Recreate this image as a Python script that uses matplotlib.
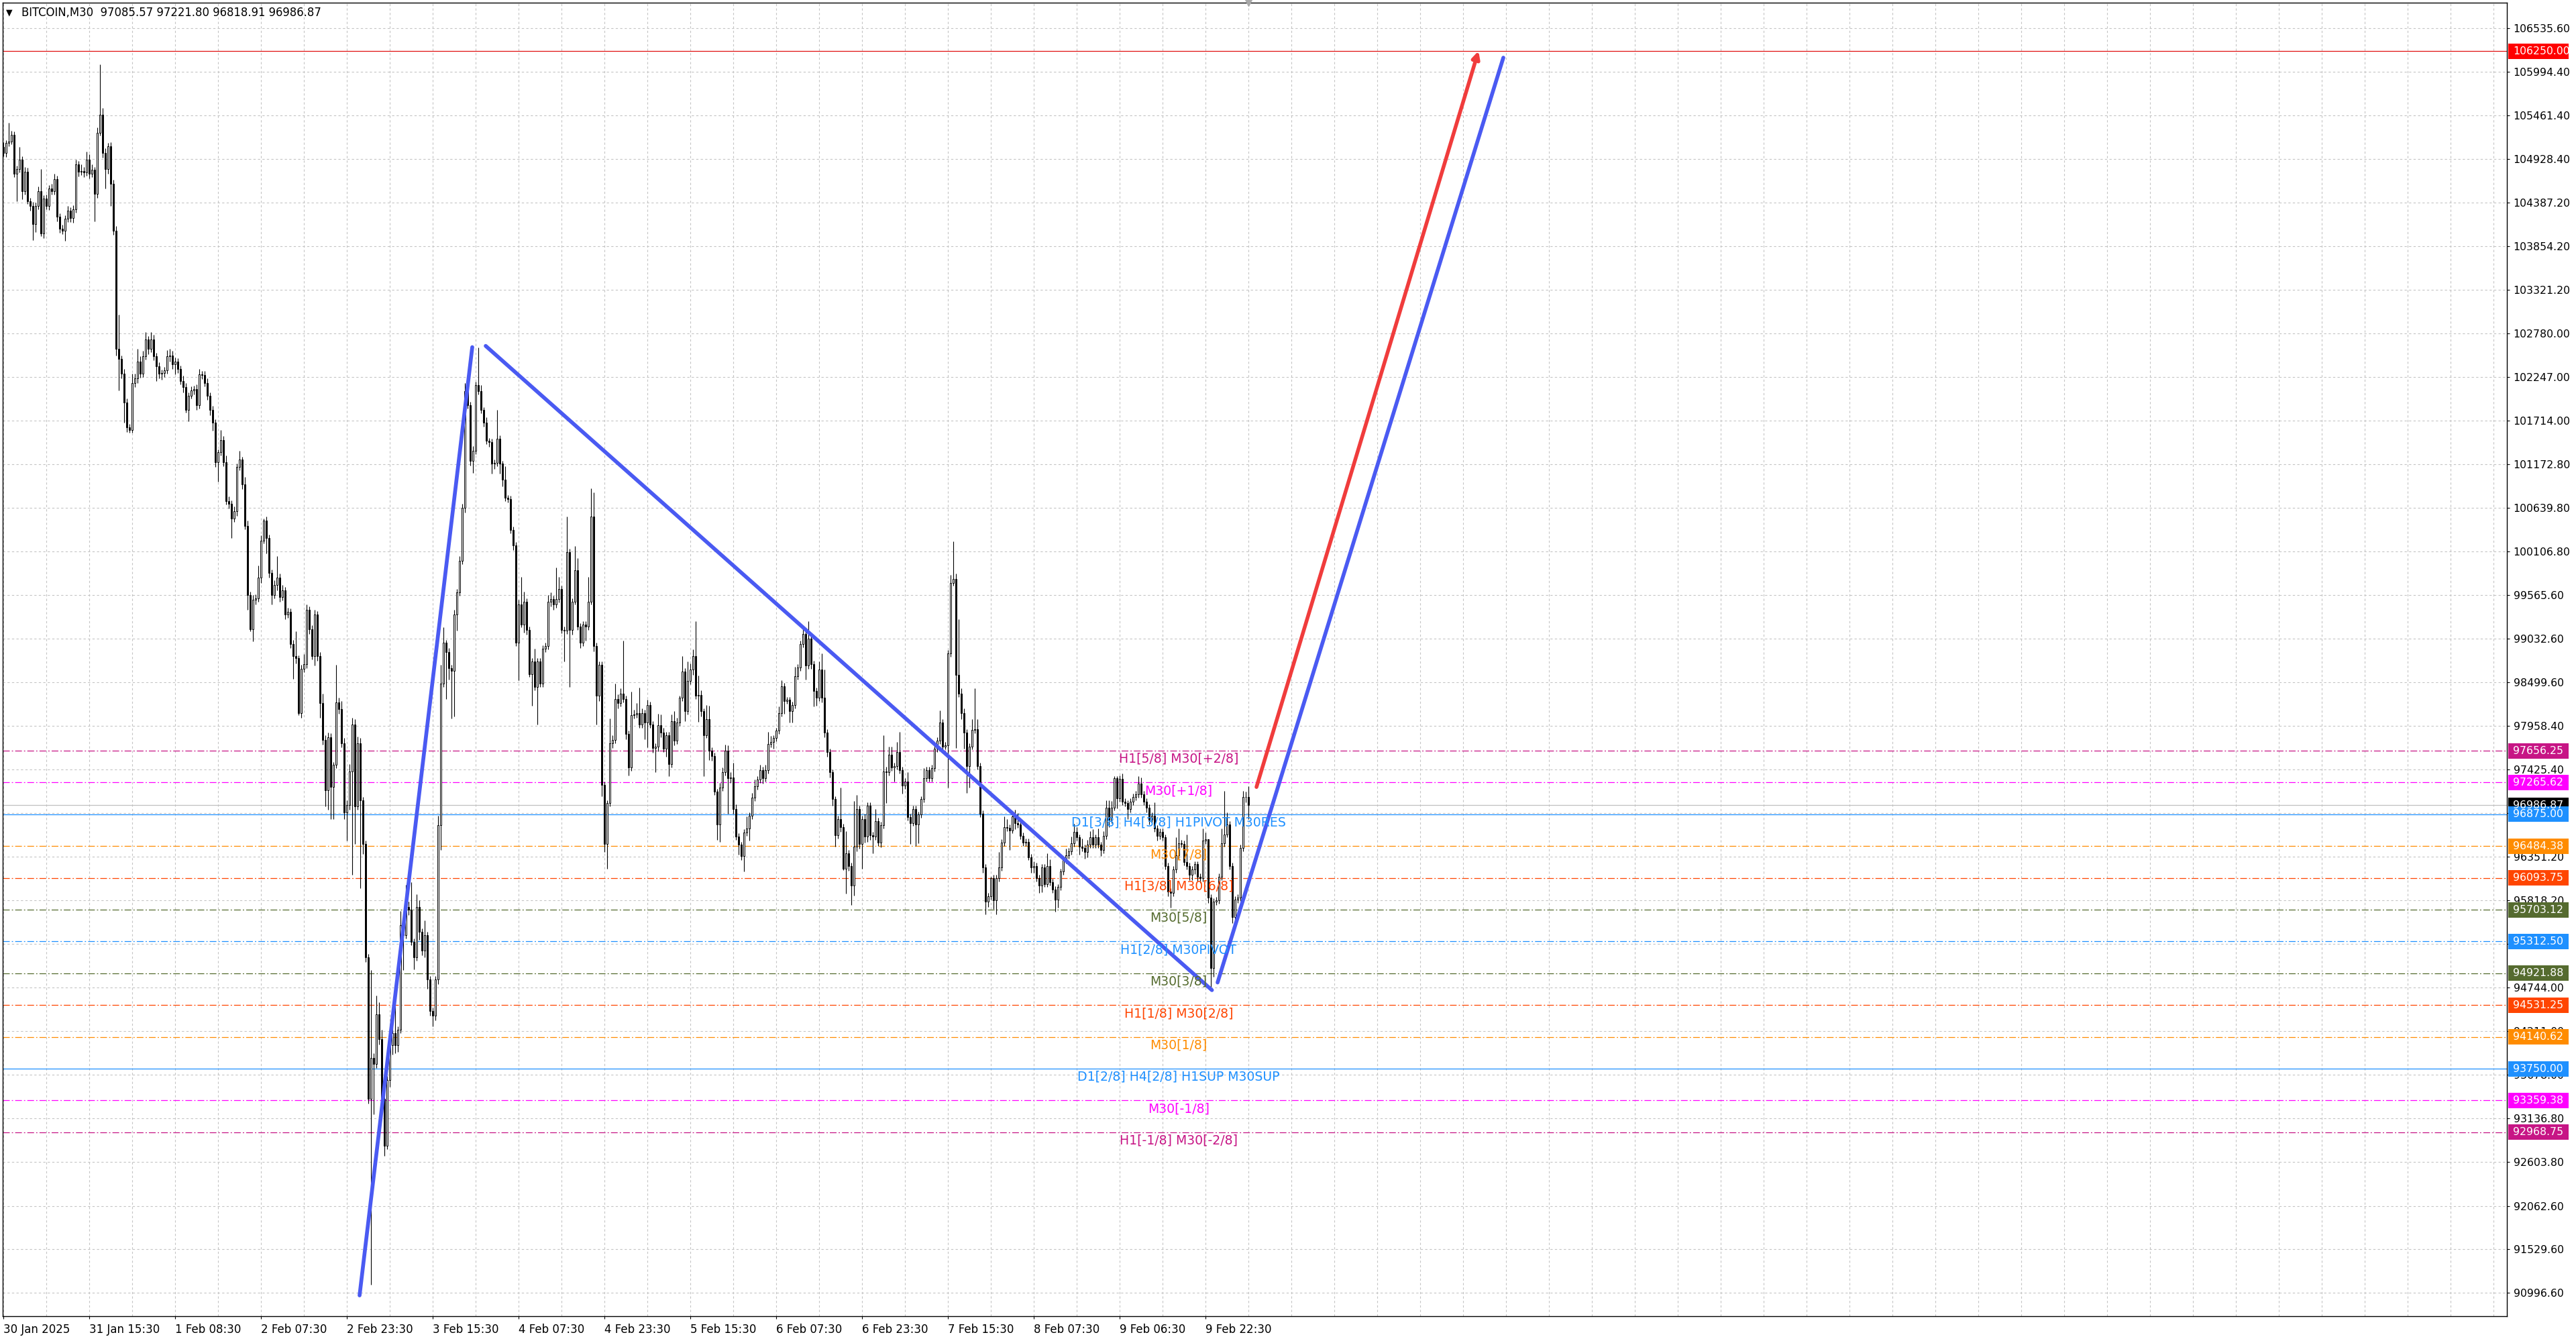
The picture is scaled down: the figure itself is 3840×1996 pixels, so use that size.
import numpy as np
import matplotlib.pyplot as plt
from matplotlib.patches import Rectangle
from matplotlib.transforms import blended_transform_factory

plt.rcParams['font.family'] = ['DejaVu Sans']

# BITCOIN M30 candles (open of each bar = previous close)
first_open = 105070
close = [
    105000, 105120, 105140, 105220, 104740, 104800, 104920, 104530, 104770, 104410,
    104350, 104130, 104350, 104530, 104010, 104440, 104350, 104560, 104530, 104680,
    104220, 104070, 104040, 104190, 104290, 104200, 104310, 104860, 104770, 104780,
    104760, 104920, 104740, 104790, 104500, 105250, 105470, 105000, 104800, 105080,
    104620, 104040, 102590, 102470, 102290, 101930, 101630, 101600, 102170, 102230,
    102440, 102290, 102500, 102710, 102590, 102710, 102500, 102380, 102290, 102300,
    102330, 102500, 102510, 102400, 102440, 102350, 102200, 102120, 101840, 102020,
    102080, 102100, 101900, 102280, 102270, 102170, 102020, 101840, 101690, 101200,
    101320, 101470, 101200, 100720, 100690, 100510, 100600, 101140, 101230, 100930,
    100420, 99570, 99150, 99510, 99530, 99780, 100240, 100480, 100270, 99840,
    99570, 99690, 99780, 99540, 99630, 99330, 99360, 98970, 98820, 98790,
    98120, 98660, 98720, 99390, 99150, 98820, 99330, 98820, 98240, 97790,
    97170, 97820, 97210, 97480, 98250, 98170, 97750, 96900, 96990, 97400,
    97980, 96970, 97750, 97050, 96510, 95120, 93380, 93880, 93810, 94420,
    94110, 93380, 92800, 93610, 94040, 94190, 94040, 94230, 95510, 95390,
    95740, 95700, 95310, 95120, 95740, 95430, 95200, 95390, 94850, 94460,
    94400, 94850, 96740, 98480, 98980, 98870, 98670, 98640, 99330, 99600,
    99990, 100640, 102070, 101900, 101220, 101340, 102150, 102070, 101840, 101690,
    101460, 101450, 101180, 101190, 101490, 101180, 100990, 100760, 100750, 100370,
    100180, 98980, 99450, 99210, 99490, 99140, 98600, 98750, 98440, 98750,
    98480, 98910, 98940, 99490, 99520, 99450, 99520, 99640, 99140, 99130,
    100100, 99140, 99490, 99870, 99180, 98980, 99210, 99180, 99490, 100530,
    98940, 98330, 98710, 97240, 96510, 97010, 97750, 97790, 98290, 98240,
    98360, 98290, 97860, 97450, 98090, 98100, 98120, 97980, 98120, 98000,
    98220, 97980, 97690, 97710, 97970, 97880, 97680, 97850, 97490, 98020,
    97780, 98000, 98310, 98630, 98140, 98510, 98650, 98820, 98330, 98340,
    98140, 97850, 98040, 97660, 97590, 97150, 96750, 97200, 97390, 97660,
    97320, 97330, 96940, 96600, 96500, 96360, 96650, 96700, 96860, 97080,
    97220, 97300, 97420, 97320, 97420, 97740, 97760, 97810, 97900, 98120,
    98450, 98270, 98280, 98140, 98220, 98570, 98680, 98970, 99090, 98700,
    99030, 98720, 98390, 98310, 98650, 98310, 97880, 97640, 97390, 97060,
    96620, 96820, 96720, 96210, 96400, 96240, 96000, 96480, 96940, 96510,
    96820, 96600, 96980, 96620, 96600, 96790, 96530, 96740, 97400, 97390,
    97610, 97450, 97470, 97640, 97420, 97230, 97280, 96840, 96770, 96940,
    96750, 96870, 97060, 97320, 97420, 97320, 97440, 97680, 97780, 98000,
    97710, 97720, 98850, 99720, 99770, 98590, 98360, 98120, 97880, 97470,
    97710, 97910, 97920, 97470, 96880, 96220, 95800, 95870, 96090, 95820,
    96090, 96220, 96530, 96720, 96710, 96680, 96850, 96770, 96750, 96610,
    96530, 96540, 96350, 96220, 96240, 96090, 96000, 96220, 96020, 96240,
    96040, 95950, 95830, 95980, 96170, 96310, 96370, 96420, 96520, 96660,
    96590, 96480, 96460, 96410, 96500, 96590, 96500, 96590, 96500, 96440,
    96610, 96960, 96810, 96960, 97320, 97070, 97310, 97030, 97010, 96940,
    97030, 97090, 97120, 97250, 97120, 97030, 96960, 96810, 96860, 96700,
    96610, 96660, 96590, 96240, 95930, 95910, 96200, 96370, 96520, 96510,
    96290, 96240, 96130, 96200, 96260, 96110, 96090, 96550, 96570, 95850,
    94990, 95800, 95820, 96110, 96520, 96630, 96750, 96240, 95610, 95830,
    95850, 96460, 97090, 97085.57, 96986.87,
]
upper_wick = [
    60, 40, 230, 50, 40, 40, 150, 40, 60, 50,
    40, 50, 40, 60, 270, 40, 50, 40, 60, 60,
    40, 40, 50, 40, 60, 40, 50, 60, 40, 80,
    50, 100, 60, 70, 40, 60, 616, 80, 60, 40,
    50, 50, 60, 426, 40, 60, 50, 40, 120, 60,
    150, 60, 70, 90, 40, 90, 60, 40, 50, 40,
    40, 80, 80, 60, 50, 40, 40, 60, 50, 40,
    50, 40, 60, 70, 40, 50, 60, 40, 50, 40,
    40, 130, 50, 80, 60, 40, 60, 40, 110, 40,
    90, 60, 40, 60, 50, 150, 60, 30, 50, 40,
    40, 60, 270, 50, 60, 40, 50, 40, 50, 300,
    40, 50, 120, 60, 40, 50, 60, 40, 50, 120,
    60, 60, 50, 40, 460, 60, 100, 60, 60, 90,
    80, 60, 80, 60, 40, 40, 40, 1085, 60, 230,
    150, 120, 60, 50, 60, 60, 330, 40, 180, 40,
    270, 60, 340, 40, 150, 80, 40, 180, 40, 40,
    40, 40, 120, 230, 190, 40, 50, 40, 60, 40,
    60, 50, 100, 90, 40, 60, 40, 460, 80, 40,
    60, 40, 40, 40, 350, 40, 40, 160, 40, 40,
    40, 40, 60, 340, 120, 40, 40, 40, 160, 40,
    40, 40, 40, 80, 80, 40, 390, 150, 40, 40,
    430, 40, 40, 300, 150, 40, 40, 40, 300, 350,
    300, 40, 40, 40, 40, 40, 300, 60, 190, 60,
    60, 650, 40, 40, 290, 60, 120, 310, 60, 40,
    60, 40, 40, 40, 140, 130, 60, 40, 40, 80,
    120, 60, 20, 190, 40, 240, 80, 80, 430, 240,
    60, 40, 180, 170, 40, 40, 40, 60, 60, 70,
    60, 60, 180, 60, 40, 40, 40, 150, 40, 60,
    80, 40, 60, 40, 60, 150, 80, 40, 40, 80,
    70, 40, 40, 40, 40, 120, 40, 40, 110, 40,
    220, 40, 40, 40, 100, 200, 340, 40, 40, 40,
    40, 40, 380, 40, 270, 40, 40, 560, 170, 40,
    40, 60, 40, 40, 40, 150, 40, 40, 450, 60,
    100, 100, 40, 120, 250, 40, 40, 110, 40, 40,
    40, 40, 40, 120, 40, 40, 40, 40, 40, 150,
    40, 40, 40, 100, 460, 60, 680, 60, 60, 40,
    40, 130, 500, 120, 40, 40, 40, 40, 20, 40,
    40, 190, 40, 130, 100, 40, 40, 80, 120, 40,
    40, 40, 40, 40, 60, 40, 40, 40, 40, 160,
    80, 40, 40, 40, 40, 40, 80, 40, 80, 100,
    60, 40, 100, 40, 60, 80, 100, 40, 110, 40,
    60, 90, 90, 80, 20, 20, 40, 70, 40, 40,
    40, 40, 40, 90, 80, 40, 40, 40, 40, 160,
    40, 40, 40, 40, 40, 40, 40, 220, 180, 40,
    40, 340, 40, 40, 40, 40, 40, 150, 80, 0,
    40, 40, 40, 40, 180, 530, 150, 40, 40, 40,
    40, 40, 70, 60, 136.23,
]
lower_wick = [
    40, 50, 40, 30, 40, 330, 40, 100, 40, 40,
    60, 200, 100, 40, 30, 60, 40, 50, 40, 40,
    60, 50, 40, 120, 40, 50, 60, 40, 60, 40,
    60, 40, 50, 40, 340, 50, 40, 60, 235, 60,
    270, 50, 80, 390, 60, 240, 60, 40, 40, 50,
    60, 50, 40, 40, 60, 40, 50, 180, 60, 80,
    50, 40, 60, 50, 120, 50, 40, 60, 30, 140,
    40, 50, 60, 40, 50, 40, 50, 60, 100, 60,
    240, 40, 50, 40, 60, 240, 40, 60, 40, 60,
    40, 180, 30, 150, 60, 40, 60, 40, 190, 60,
    120, 40, 60, 50, 40, 60, 40, 50, 280, 60,
    30, 60, 40, 50, 60, 40, 120, 60, 180, 60,
    200, 235, 390, 390, 40, 60, 50, 80, 350, 60,
    1270, 460, 40, 1080, 120, 60, 60, 2280, 620, 50,
    60, 80, 120, 40, 80, 120, 100, 80, 40, 425,
    40, 60, 40, 150, 40, 100, 60, 80, 120, 60,
    130, 60, 60, 300, 40, 580, 140, 590, 560, 200,
    40, 40, 60, 40, 60, 150, 40, 40, 40, 50,
    40, 60, 120, 60, 40, 120, 90, 40, 40, 40,
    60, 40, 460, 40, 100, 60, 40, 390, 40, 460,
    40, 40, 40, 40, 60, 60, 40, 40, 40, 380,
    40, 700, 60, 40, 40, 60, 40, 170, 40, 40,
    60, 350, 60, 140, 100, 300, 40, 60, 40, 60,
    40, 40, 60, 100, 40, 40, 40, 40, 40, 200,
    300, 40, 60, 300, 60, 60, 40, 100, 150, 40,
    60, 40, 40, 40, 120, 40, 40, 60, 40, 320,
    60, 510, 40, 120, 60, 40, 190, 210, 40, 40,
    440, 60, 60, 40, 120, 50, 190, 40, 150, 40,
    40, 40, 40, 70, 40, 40, 40, 80, 40, 40,
    40, 160, 40, 140, 140, 40, 40, 40, 40, 170,
    40, 60, 190, 100, 40, 60, 60, 60, 60, 80,
    140, 40, 60, 20, 310, 60, 240, 120, 60, 60,
    300, 70, 60, 60, 200, 40, 40, 60, 40, 380,
    40, 40, 170, 40, 40, 100, 40, 40, 260, 40,
    260, 230, 40, 40, 40, 40, 40, 40, 40, 40,
    40, 40, 520, 40, 40, 900, 40, 80, 200, 330,
    270, 40, 40, 40, 40, 60, 150, 60, 40, 110,
    170, 40, 40, 40, 40, 240, 40, 80, 40, 40,
    40, 40, 40, 60, 60, 40, 90, 80, 40, 40,
    40, 40, 150, 100, 40, 40, 40, 40, 40, 40,
    40, 100, 40, 80, 60, 40, 40, 40, 40, 80,
    40, 40, 90, 40, 40, 120, 40, 40, 40, 120,
    40, 40, 40, 40, 40, 40, 60, 60, 40, 40,
    60, 40, 40, 40, 60, 180, 40, 40, 40, 40,
    40, 40, 60, 60, 60, 60, 60, 40, 40, 60,
    250, 110, 40, 40, 40, 40, 40, 40, 70, 100,
    40, 40, 40, 60, 167.96,
]

# time axis labels (bar index of each label)
date_bars = [0, 32, 64, 96, 128, 160, 192, 224, 256, 288, 320, 352, 384, 416, 448]
date_labels = ['30 Jan 2025', '31 Jan 15:30', '1 Feb 08:30', '2 Feb 07:30', '2 Feb 23:30',
               '3 Feb 15:30', '4 Feb 07:30', '4 Feb 23:30', '5 Feb 15:30', '6 Feb 07:30',
               '6 Feb 23:30', '7 Feb 15:30', '8 Feb 07:30', '9 Feb 06:30', '9 Feb 22:30']
price_ticks = [106535.6, 105994.4, 105461.4, 104928.4, 104387.2, 103854.2, 103321.2,
               102780.0, 102247.0, 101714.0, 101172.8, 100639.8, 100106.8, 99565.6,
               99032.6, 98499.6, 97958.4, 97425.4, 96892.4, 96351.2, 95818.2, 95285.2,
               94744.0, 94211.0, 93678.0, 93136.8, 92603.8, 92062.6, 91529.6, 90996.6]

# Murrey math levels
level_prices = [97656.25, 97265.62, 96875.00, 96484.38, 96093.75, 95703.12, 95312.50,
                94921.88, 94531.25, 94140.62, 93750.00, 93359.38, 92968.75]
level_names = ['H1[5/8] M30[+2/8]', 'M30[+1/8]', 'D1[3/8] H4[3/8] H1PIVOT M30RES',
               'M30[7/8]', 'H1[3/8] M30[6/8]', 'M30[5/8]', 'H1[2/8] M30PIVOT',
               'M30[3/8]', 'H1[1/8] M30[2/8]', 'M30[1/8]', 'D1[2/8] H4[2/8] H1SUP M30SUP',
               'M30[-1/8]', 'H1[-1/8] M30[-2/8]']
level_colors = ['#c71585', '#ff00ff', '#1e90ff', '#ff8c00', '#ff4500', '#556b2f', '#1e90ff',
                '#556b2f', '#ff4500', '#ff8c00', '#1e90ff', '#ff00ff', '#c71585']
level_solid = [False, False, True, False, False, False, False,
               False, False, False, True, False, False]
target_price = 106250.00
label_bar = 438

# hand drawn waves (bar index, price)
wave_up_bars, wave_up_prices = [132.75, 174.75], [90965, 102614]
wave_down_bars, wave_down_prices = [179.75, 450.4], [102629, 94715]
wave_next_bars, wave_next_prices = [452.5, 559], [94809, 106170]
arrow_bars, arrow_prices = [467, 549.75], [97210, 106253]

W, H = 3840, 1996
fig = plt.figure(figsize=(W / 100, H / 100), dpi=100)
ax = fig.add_axes([4 / W, 1 - 1962 / H, 3733 / W, 1958 / H])
ax.set_xlim(-0.25, 933)
ax.set_ylim(90709.6, 106845.5)

# candles
n = len(close)
x = np.arange(n)
c = np.array(close, dtype=float)
o = np.concatenate([[first_open], c[:-1]])
hi = np.maximum(o, c) + np.array(upper_wick)
lo = np.minimum(o, c) - np.array(lower_wick)
up = c >= o
ax.vlines(x, lo, hi, color='black', lw=0.8, zorder=3)
ax.bar(x, np.abs(c - o), bottom=np.minimum(o, c), width=0.62,
       color=np.where(up, 'white', 'black'), edgecolor='black', linewidth=0.7, zorder=3)

# levels
for p, name, col, solid in zip(level_prices, level_names, level_colors, level_solid):
    if solid:
        ax.axhline(p, color=col, lw=0.9, zorder=2)
    else:
        ax.axhline(p, color=col, lw=0.9, dashes=(8, 2.5, 1.5, 2.5), zorder=2)
    ax.annotate(name, (label_bar, p), xytext=(0, -2), textcoords='offset points',
                ha='center', va='top', color=col, fontsize=13.6, zorder=6)
ax.axhline(target_price, color='#e01010', lw=0.9, zorder=2)
ax.axhline(c[-1], color='#c0c0c0', lw=0.9, zorder=2)

# waves and target arrow
for bx, py in [(wave_up_bars, wave_up_prices), (wave_down_bars, wave_down_prices),
               (wave_next_bars, wave_next_prices)]:
    ax.plot(bx, py, color='#4a5af2', lw=4.1, solid_capstyle='round', zorder=5)
ax.annotate('', xy=(arrow_bars[1], arrow_prices[1]), xytext=(arrow_bars[0], arrow_prices[0]),
            arrowprops=dict(arrowstyle='-|>', color='#f03c3c', lw=4.0, mutation_scale=16,
                            shrinkA=0, shrinkB=0, capstyle='round'), zorder=5)

# grid and axes
ax.set_xticks(date_bars)
ax.set_xticklabels(date_labels)
ax.set_xticks(np.arange(16, 933, 16), minor=True)
ax.set_yticks(price_ticks)
ax.set_yticklabels(['%.2f' % t for t in price_ticks])
ax.yaxis.tick_right()
ax.grid(True, which='both', color='#c4c4c4', lw=0.8, dashes=(3, 3))
ax.tick_params(axis='y', direction='out', length=3, width=0.8, pad=4, labelsize=11.3)
ax.tick_params(axis='x', which='major', direction='out', length=3, width=0.8, pad=5, labelsize=12)
ax.tick_params(axis='x', which='minor', length=0)
for lab in ax.get_xticklabels():
    lab.set_ha('left')
for s in ax.spines.values():
    s.set_color('black')
    s.set_linewidth(1)

# price boxes on the right scale
tr = blended_transform_factory(fig.transFigure, ax.transData)
box_h = 190
boxes = [(c[-1], 'black'), (target_price, '#ff0000')] + list(zip(level_prices, level_colors))
for p, col in boxes:
    ax.add_patch(Rectangle((3739 / W, p - box_h / 2), 90 / W, box_h, transform=tr,
                           facecolor=col, edgecolor='none', clip_on=False, zorder=7))
    ax.text(3746 / W, p, '%.2f' % p, transform=tr, color='white', fontsize=11.3,
            va='center', ha='left', clip_on=False, zorder=8)

# chart-shift marker and title
ax.plot(n - 1, 106845.5, marker='v', color='#a8a8a8', markersize=7, clip_on=False, zorder=8)
fig.text(9 / W, 1 - 19 / H, '▼', fontsize=9, va='center', ha='left')
fig.text(32 / W, 1 - 19 / H, 'BITCOIN,M30  %.2f %.2f %.2f %.2f' % (o[-1], hi[-1], lo[-1], c[-1]),
         fontsize=11.9, va='center', ha='left')

fig.savefig('out.png', dpi=100)
